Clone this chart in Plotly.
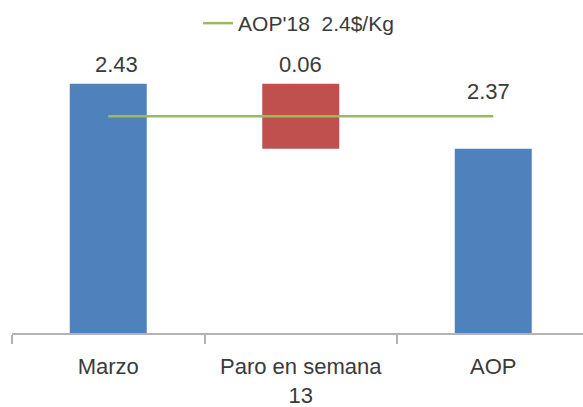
import plotly.graph_objects as go

# Price bridge: March result, impact of the week-13 stoppage, AOP target
categories = ["Marzo", "Paro en semana<br>13", "AOP"]
bar_values = [2.43, 0.06, 2.37]
bar_bases = [0, 2.37, 0]
bar_colors = ["#4F81BD", "#C0504D", "#4F81BD"]
value_labels = ["2.43", "0.06", "2.37"]

# Reference line: AOP'18 target price
target_name = "AOP'18  2.4$/Kg"
target_x = ["Marzo", "AOP"]
target_y = [2.4, 2.4]

FONT = "Liberation Sans, Arial, sans-serif"
TEXT = "#3a3a3a"

fig = go.Figure()

fig.add_trace(go.Bar(
    x=categories,
    y=bar_values,
    base=bar_bases,
    marker=dict(color=bar_colors, line=dict(width=0)),
    width=0.4,
    showlegend=False,
    hoverinfo="skip",
))

fig.add_trace(go.Scatter(
    x=target_x,
    y=target_y,
    mode="lines",
    line=dict(color="#9BBB59", width=2.5),
    name=target_name,
    showlegend=True,
))

# value labels above each bar
tops = [b + v for b, v in zip(bar_bases, bar_values)]
shifts = [(8, 5), (0, 5), (-5, 43)]
for cat, top, lab, (xs, ys) in zip(categories, tops, value_labels, shifts):
    fig.add_annotation(
        x=cat, y=top, text=lab, showarrow=False,
        xanchor="center", yanchor="bottom",
        xshift=xs, yshift=ys,
        font=dict(family=FONT, size=22, color=TEXT),
    )

y_min = 2.2
px_per_unit = 1083.3
top_margin, bottom_margin = 40, 74
plot_h = 407 - top_margin - bottom_margin
left_margin = 12
plot_w = 583 - left_margin
x_px_per_cat = 192.5

fig.update_layout(
    width=583, height=407,
    margin=dict(l=left_margin, r=0, t=top_margin, b=bottom_margin,
                autoexpand=False),
    paper_bgcolor="white", plot_bgcolor="white",
    bargap=0.6,
    font=dict(family=FONT, size=22, color=TEXT),
    legend=dict(
        orientation="h",
        x=190 / 583, xanchor="left",
        y=1.0 - 3 / 407, yanchor="top", yref="container",
        itemwidth=30,
        font=dict(family=FONT, size=21, color=TEXT),
        bgcolor="rgba(0,0,0,0)",
    ),
    xaxis=dict(
        type="category",
        range=[-0.5, -0.5 + plot_w / x_px_per_cat],
        showline=True, linecolor="#B3B3B3", linewidth=2,
        ticks="outside", tickson="boundaries", ticklen=9,
        tickcolor="#B3B3B3", tickwidth=2,
        ticklabelstandoff=13,
        showgrid=False, zeroline=False,
        tickfont=dict(family=FONT, size=22, color=TEXT),
    ),
    yaxis=dict(
        range=[y_min, y_min + plot_h / px_per_unit],
        visible=False, showgrid=False, zeroline=False,
    ),
)

fig.write_html("out.html")
